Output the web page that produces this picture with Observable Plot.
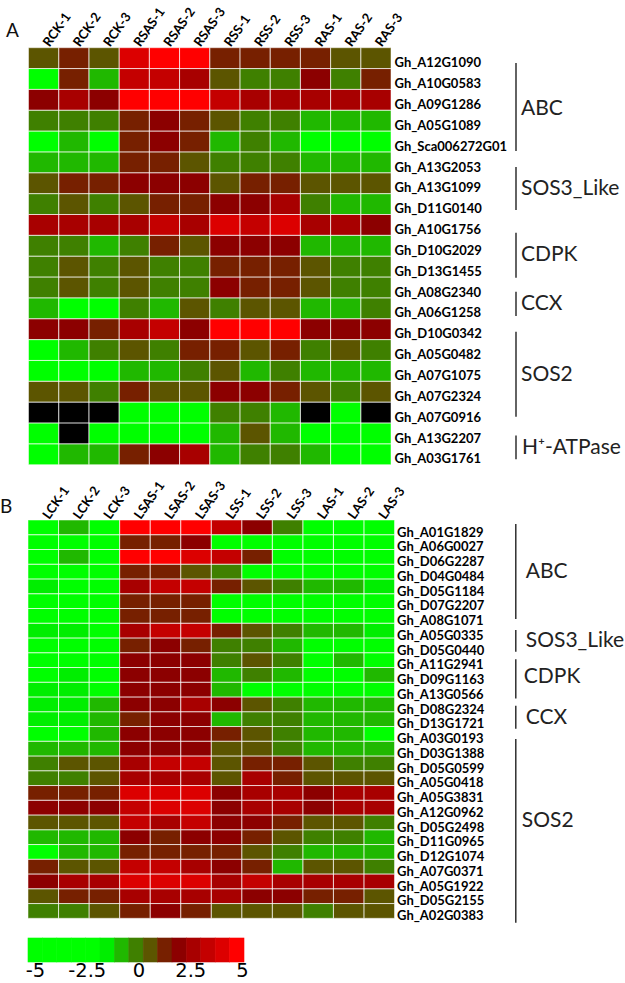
<!DOCTYPE html>
<html><head><meta charset="utf-8">
<script src="https://cdn.jsdelivr.net/npm/d3@7"></script>
<script src="https://cdn.jsdelivr.net/npm/@observablehq/plot@0.6"></script>
<style>
html,body{margin:0;padding:0;background:#fff}
#page{position:relative;width:625px;height:983px;overflow:hidden}
#page svg{position:absolute;left:0;background:transparent}
.letter{position:absolute;font:19px Lato,sans-serif;color:#111}
</style></head><body><div id="page">
<div class="letter" style="left:6px;top:18px">A</div>
<div class="letter" style="left:0px;top:494px">B</div>
</div>
<script>
const colsA=["RCK-1","RCK-2","RCK-3","RSAS-1","RSAS-2","RSAS-3","RSS-1","RSS-2","RSS-3","RAS-1","RAS-2","RAS-3"];
const colsB=["LCK-1","LCK-2","LCK-3","LSAS-1","LSAS-2","LSAS-3","LSS-1","LSS-2","LSS-3","LAS-1","LAS-2","LAS-3"];
const genesA=["Gh_A12G1090","Gh_A10G0583","Gh_A09G1286","Gh_A05G1089","Gh_Sca006272G01","Gh_A13G2053","Gh_A13G1099","Gh_D11G0140","Gh_A10G1756","Gh_D10G2029","Gh_D13G1455","Gh_A08G2340","Gh_A06G1258","Gh_D10G0342","Gh_A05G0482","Gh_A07G1075","Gh_A07G2324","Gh_A07G0916","Gh_A13G2207","Gh_A03G1761"];
const genesB=["Gh_A01G1829","Gh_A06G0027","Gh_D06G2287","Gh_D04G0484","Gh_D05G1184","Gh_D07G2207","Gh_A08G1071","Gh_A05G0335","Gh_D05G0440","Gh_A11G2941","Gh_D09G1163","Gh_A13G0566","Gh_D08G2324","Gh_D13G1721","Gh_A03G0193","Gh_D03G1388","Gh_D05G0599","Gh_A05G0418","Gh_A05G3831","Gh_A12G0962","Gh_D05G2498","Gh_D11G0965","Gh_D12G1074","Gh_A07G0371","Gh_A05G1922","Gh_D05G2155","Gh_A02G0383"];
const valuesA=[
[.7,1.3,.7,4,4.7,4.7,1.3,1.3,1.3,1.3,.7,.7],
[-3,1.3,-.7,3.3,3.3,2.7,.7,0,0,2,0,1.3],
[2,2.7,2,4.7,4.7,4.7,3.3,2.7,2.7,2.7,2.7,2.7],
[0,0,0,1.3,2,1.3,.7,0,0,-.7,-.7,-.7],
[-3,-.7,-3,1.3,2,1.3,-.7,0,-.7,-3,-3,-3],
[-.7,-.7,-.7,1.3,1.3,.7,0,0,0,-.7,-.7,-.7],
[.7,1.3,1.3,2,2,2,.7,1.3,1.3,.7,.7,.7],
[0,.7,0,.7,1.3,1.3,2,2,2.7,0,-.7,-.7],
[2.7,2.7,2.7,2.7,3.3,2.7,4,3.3,4,2.7,2.7,2],
[0,0,-.7,0,1.3,.7,2,2,2,-.7,-.7,-.7],
[0,.7,0,.7,0,0,1.3,1.3,1.3,.7,0,0],
[0,.7,0,.7,0,0,2,1.3,1.3,.7,0,0],
[-.7,-3,-3,0,-.7,.7,0,.7,.7,-.7,-.7,0],
[2,2,1.3,2.7,3.3,2,4.7,4.7,4.7,2,2,2],
[-3,-.7,0,.7,0,1.3,1.3,.7,1.3,0,.7,0],
[-3,-3,-3,-.7,-.7,0,.7,-.7,0,-.7,-.7,-.7],
[.7,.7,0,1.3,.7,.7,2,2,1.3,.7,0,.7],
[null,null,null,-3,-3,-3,0,0,-.7,null,-3,null],
[-3,null,-3,-3,-3,-3,-.7,.7,-.7,-3,-3,-3],
[-3,-.7,-.7,1.3,2,2.7,-.7,0,0,-.7,-3,-3]];
const valuesB=[
[-3,-.7,-3,4.7,4.7,4.7,3.3,2,0,-3,-3,-3],
[-3,-3,-3,1.3,1.3,2,-3,-3,-3,-3,-3,-3],
[-3,-.7,-3,4.7,4.7,4,3.3,1.3,-3,-3,-3,-3],
[-3,-3,-3,1.3,1.3,.7,0,-3,-3,-3,-3,-3],
[-1.3,-3,-3,2.7,3.3,3.3,1.3,.7,0,-.7,-.7,-1.3],
[-3,-3,-3,1.3,1.3,1.3,-3,-3,-3,-3,-3,-3],
[-3,-3,-3,1.3,1.3,1.3,-3,-3,-3,-3,-3,-3],
[-1.3,-1.3,-3,2.7,3.3,3.3,1.3,.7,0,-.7,-.7,-1.3],
[-3,-3,-3,1.3,2,1.3,0,0,-.7,-3,-3,-3],
[-3,-3,-3,2,2,2,0,.7,0,-3,-.7,-3],
[-3,-1.3,-3,2,2,2,-.7,0,-.7,-3,-3,-.7],
[-1.3,-1.3,-3,2,2,2,-.7,-3,-3,-3,-3,-3],
[-1.3,-1.3,-.7,2,2,2.7,2,.7,0,-.7,-.7,-.7],
[-1.3,-1.3,-.7,1.3,2,2,-.7,0,0,-.7,-.7,-.7],
[-3,-3,-.7,2,2,2,1.3,.7,0,-.7,-.7,-3],
[-.7,-.7,-.7,2,2,2,.7,.7,0,-.7,-.7,-.7],
[0,.7,.7,2.7,3.3,3.3,.7,1.3,1.3,.7,0,0],
[0,0,.7,2.7,2.7,2.7,.7,2.7,1.3,.7,.7,.7],
[1.3,1.3,1.3,4,4,4,2,2.7,2.7,2,2.7,2.7],
[2,2,2,3.3,4,4,2,2.7,2.7,2,2.7,2.7],
[.7,.7,.7,3.3,2.7,3.3,2,2,1.3,.7,.7,0],
[-.7,-.7,-.7,2,1.3,2,2,1.3,.7,0,0,-.7],
[-3,-.7,-.7,1.3,1.3,1.3,1.3,.7,0,-.7,-.7,-.7],
[1.3,.7,.7,3.3,3.3,2.7,2,1.3,-.7,.7,.7,0],
[2,2.7,2.7,4,4,4,2.7,3.3,2.7,2.7,2.7,2.7],
[.7,1.3,1.3,2.7,2.7,2.7,2.7,2,2,1.3,1.3,.7],
[0,0,.7,1.3,2,1.3,.7,.7,.7,0,.7,.7]];
const groupsA=[
{name:"ABC",from:.73,to:4.95,mid:2.88,off:5},
{name:"SOS3_Like",from:5.72,to:7.78,mid:6.71,off:5},
{name:"CDPK",from:8.87,to:11.03,mid:9.89,off:5},
{name:"CCX",from:11.7,to:12.87,mid:12.25,off:5},
{name:"SOS2",from:13.62,to:17.7,mid:15.65,off:5},
{name:"H⁺-ATPase",from:18.6,to:19.74,mid:19.14,off:6}];
const groupsB=[
{name:"ABC",from:.27,to:6.71,mid:3.46,off:10},
{name:"SOS3_Like",from:7.46,to:8.93,mid:8.14,off:10},
{name:"CDPK",from:9.44,to:12.1,mid:10.55,off:8},
{name:"CCX",from:12.6,to:14.15,mid:13.36,off:10},
{name:"SOS2",from:14.85,to:27.3,mid:20.3,off:6}];
const thresholds=[-1.67,-1,-.33,.33,1,1.67,2.33,3,3.67,4.33];
const palette=["#00ff00","#00ee00","#20b800","#3f8000","#5c5500","#772000","#8c0000","#a80000","#c40000","#dc0000","#ff0000"];
const legendBins=[-4.67,-4,-3.33,-2.67,-2,-1.33,-.67,0,.67,1.33,2,2.67,3.33,4,4.67];
const legendTicks=[-5,-2.5,0,2.5,5];
const colorOpt={type:"threshold",domain:thresholds,range:palette};
const page=document.getElementById("page");
const place=(svg,top)=>{svg.style.top=top+"px";page.appendChild(svg);};
const labelFont="700 13px Lato, sans-serif";

function panel(cols,genes,values,groups,top,bottom,left,right,lineX,labelPad,svgTop,svgH){
  const cells=genes.flatMap((g,r)=>cols.map((c,k)=>({gene:g,col:c,v:values[r][k]})));
  const mT=top-svgTop, mB=svgTop+svgH-bottom, mL=left, mR=625-right;
  const hm=Plot.plot({width:625,height:svgH,marginTop:mT,marginBottom:mB,marginLeft:mL,marginRight:mR,
    style:{font:labelFont,background:"transparent",overflow:"visible"},
    color:colorOpt,
    x:{domain:cols,padding:0,round:false,axis:null},
    y:{domain:genes,padding:0,round:false,axis:null},
    marks:[
      Plot.cell(cells.filter(d=>d.v!=null),{x:"col",y:"gene",fill:"v"}),
      Plot.cell(cells.filter(d=>d.v==null),{x:"col",y:"gene",fill:"#000"}),
      Plot.cell(cells,{x:"col",y:"gene",fill:"none",stroke:"#fff",strokeOpacity:.5,strokeWidth:1}),
      Plot.axisX({anchor:"top",tickSize:0,tickPadding:3,tickRotate:-55,dx:2,label:null,fill:"#000"}),
      Plot.axisY({anchor:"right",tickSize:0,tickPadding:labelPad,dy:4.5,label:null,fill:"#000"})
    ]});
  place(hm,svgTop);
  const ann=Plot.plot({width:625,height:svgH,marginTop:mT,marginBottom:mB,marginLeft:lineX,marginRight:0,
    style:{background:"transparent",overflow:"visible"},
    x:{type:"identity",axis:null},
    y:{domain:[0,genes.length],axis:null,reverse:true},
    marks:[
      Plot.ruleX(groups,{x:()=>lineX,y1:"from",y2:"to",stroke:"#222",strokeWidth:1.4}),
      ...groups.map(g=>Plot.text([g],{x:()=>lineX,y:"mid",text:"name",dx:g.off,textAnchor:"start",fontSize:21,fontFamily:"Lato, sans-serif",fill:"#222"}))
    ]});
  place(ann,svgTop);
}
panel(colsA,genesA,valuesA,groupsA,47.7,464.7,28.5,391,515.5,3,0,480);
panel(colsB,genesB,valuesB,groupsB,520,918.3,28,394.5,515.3,2,480,450);

const bins=legendBins.map((v,i)=>({v,i}));
place(Plot.plot({width:300,height:30,marginTop:3,marginBottom:3,marginLeft:28,marginRight:56,
  style:{background:"transparent"},color:colorOpt,
  x:{type:"band",domain:bins.map(d=>d.i),padding:0,round:false,axis:null},y:{axis:null},
  marks:[Plot.cell(bins,{x:"i",fill:"v",stroke:"v",strokeWidth:.6})]}),935);
place(Plot.plot({width:300,height:23,marginTop:0,marginBottom:21,marginLeft:35,marginRight:58,
  style:{background:"transparent",font:"19.5px 'DejaVu Sans', sans-serif"},
  x:{domain:[-5,5],ticks:legendTicks,tickSize:0,tickPadding:1,label:null,tickFormat:d=>String(d)},
  marks:[]}),960);
</script></body></html>
